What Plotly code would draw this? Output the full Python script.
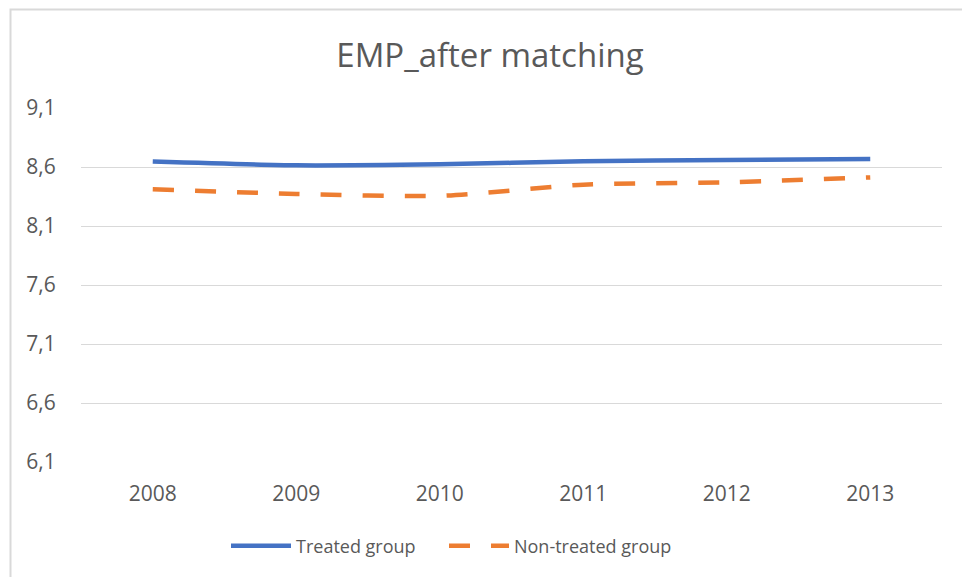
import plotly.graph_objects as go

years = ["2008", "2009", "2010", "2011", "2012", "2013"]
treated = [8.646, 8.614, 8.623, 8.648, 8.659, 8.668]
non_treated = [8.411, 8.372, 8.355, 8.450, 8.470, 8.512]
y_ticks = [6.1, 6.6, 7.1, 7.6, 8.1, 8.6, 9.1]
y_tick_labels = ["6,1", "6,6", "7,1", "7,6", "8,1", "8,6", "9,1"]
series_names = ["Treated group", "Non-treated group"]

W, H = 962, 577
L, R, T, B = 81, 20, 108, 115
pw, ph = W - L - R, H - T - B

fig = go.Figure()
fig.add_trace(go.Scatter(
    x=years, y=treated, name=series_names[0] + "\u00a0" * 5, mode="lines",
    hovertemplate="%{y}<extra>" + series_names[0] + "</extra>",
    line=dict(color="#4472C4", width=4.5, shape="spline", smoothing=0.6),
))
fig.add_trace(go.Scatter(
    x=years, y=non_treated, name=series_names[1], mode="lines",
    hovertemplate="%{y}<extra>" + series_names[1] + "</extra>",
    line=dict(color="#ED7D31", width=4.5, dash="21px,21px", shape="spline", smoothing=0.6),
))

font_family = "Open Sans, Noto Sans, sans-serif"

def px_to_paper_x(px):
    return (px - L) / pw

def px_to_paper_y(py):
    return (H - B - py) / ph

fig.add_shape(type="rect", xref="paper", yref="paper",
              x0=px_to_paper_x(10.5), x1=px_to_paper_x(970),
              y0=px_to_paper_y(585), y1=px_to_paper_y(9.5),
              line=dict(color="#d9d9d9", width=2), fillcolor="rgba(0,0,0,0)", layer="below")

fig.update_layout(
    width=W, height=H,
    margin=dict(l=L, r=R, t=T, b=B),
    paper_bgcolor="white", plot_bgcolor="white",
    font=dict(family=font_family, color="#595959", size=21),
    title=dict(text="EMP_after matching", font=dict(size=33, color="#595959", family=font_family),
               xref="container", x=490 / W, xanchor="center",
               yref="container", y=1 - 55 / H, yanchor="middle"),
    showlegend=True,
    legend=dict(orientation="h", xref="container", yref="container",
                x=226 / W, xanchor="left", y=1 - 546 / H, yanchor="middle",
                itemwidth=60,
                font=dict(size=18, color="#595959", family=font_family),
                bgcolor="rgba(0,0,0,0)"),
    xaxis=dict(type="category", range=[-0.5, 5.5], showgrid=False, zeroline=False,
               showline=False, ticks="outside", ticklen=13, tickcolor="rgba(0,0,0,0)",
               tickfont=dict(size=21, color="#595959")),
    yaxis=dict(range=[6.1, 9.1], tickvals=y_ticks, ticktext=y_tick_labels,
               showgrid=True, gridcolor="#d9d9d9", gridwidth=1.3, zeroline=False,
               showline=False, ticks="outside", ticklen=20, tickcolor="rgba(0,0,0,0)",
               tickfont=dict(size=21, color="#595959")),
)

fig.write_html("out.html", config={"displayModeBar": False},
               post_script="document.body.style.margin='0';document.body.style.overflow='hidden';")
